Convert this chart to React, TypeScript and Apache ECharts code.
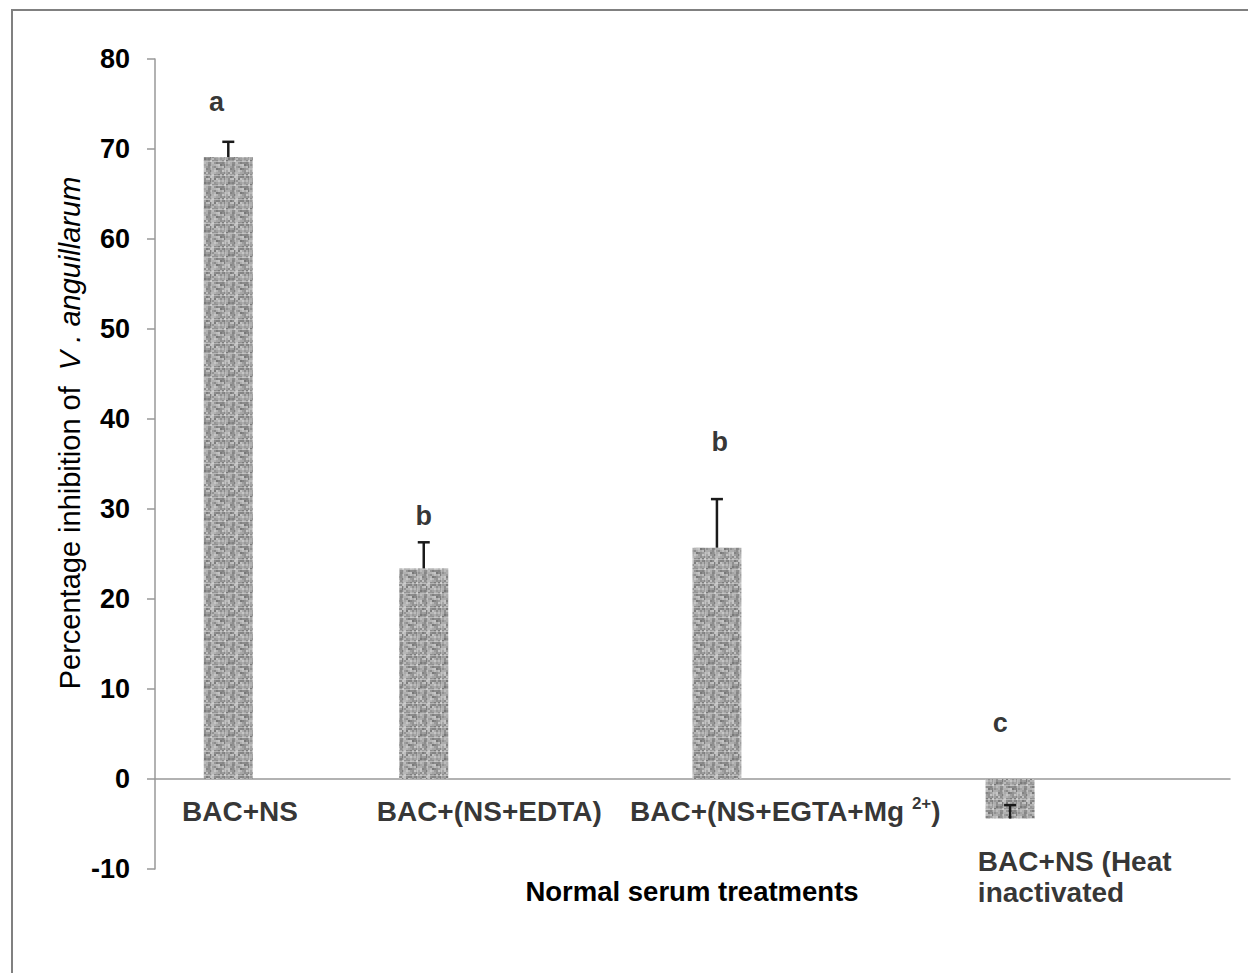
import React, { useEffect, useRef } from "react";
import * as echarts from "echarts";

// ---- data ----
const categories = [
  "BAC+NS",
  "BAC+(NS+EDTA)",
  "BAC+(NS+EGTA+Mg 2+)",
  "BAC+NS (Heat\ninactivated",
];
const barPositions = [0.75, 2.75, 5.75, 8.75];
const values = [69.1, 23.4, 25.7, -4.4];
const errors = [1.7, 2.9, 5.4, 1.5];
const letters = ["a", "b", "b", "c"];
const letterX = [0.63, 2.75, 5.78, 8.65];
const letterY = [75.2, 29.2, 37.4, 6.2];
const labelX = [0.87, 3.42, 6.45, 8.42];
const labelY = [-3.56, -3.56, -3.56, -10.9];
const yMin = -10;
const yMax = 80;
const yStep = 10;

const FONT = "'Liberation Sans', Arial, sans-serif";

function makeTexture(): HTMLCanvasElement {
  const c = document.createElement("canvas");
  c.width = 24;
  c.height = 24;
  const ctx = c.getContext("2d")!;
  for (let i = 0; i < 12; i++) {
    for (let j = 0; j < 12; j++) {
      const h = ((i * 73856093) ^ (j * 19349663) ^ (i * j * 83492791)) >>> 0;
      const v = 120 + (h % 80);
      ctx.fillStyle = `rgb(${v},${v},${v})`;
      ctx.fillRect(i * 2, j * 2, 2, 2);
    }
  }
  ctx.fillStyle = "rgba(215,215,215,0.5)";
  ctx.fillRect(0, 7, 24, 1);
  ctx.fillRect(0, 17, 24, 1);
  ctx.fillRect(9, 0, 1, 24);
  ctx.fillRect(19, 0, 1, 24);
  return c;
}

export default function App() {
  const ref = useRef<HTMLDivElement>(null);
  useEffect(() => {
    if (!ref.current) return;
    const chart = echarts.init(ref.current, null, { renderer: "svg" });
    const tex = makeTexture();

    const barData = barPositions.map((x, i) => [x, values[i]]);
    const errData = barPositions.map((x, i) => [x, values[i], errors[i]]);
    const letterData = letterX.map((x, i) => ({ value: [x, letterY[i]], name: letters[i] }));
    const labelData = labelX.map((x, i) =>
      i === 3
        ? { value: [x, labelY[i]], name: categories[i], label: { align: "left" } }
        : { value: [x, labelY[i]], name: categories[i] }
    );

    chart.setOption({
      animation: false,
      backgroundColor: "#ffffff",
      grid: { left: 155, right: 18, top: 59, bottom: 104, containLabel: false },
      xAxis: {
        type: "value",
        min: 0,
        max: 11,
        axisLine: { show: true, onZero: true, lineStyle: { color: "#999999", width: 1.5 } },
        axisTick: { show: false },
        axisLabel: { show: false },
        splitLine: { show: false },
      },
      yAxis: {
        type: "value",
        min: yMin,
        max: yMax,
        interval: yStep,
        axisLine: { show: true, lineStyle: { color: "#999999", width: 1.5 } },
        axisTick: { show: true, length: 8, lineStyle: { color: "#999999", width: 1.5 } },
        axisLabel: {
          margin: 25,
          fontSize: 27,
          fontWeight: "bold",
          fontFamily: FONT,
          color: "#000",
        },
        splitLine: { show: false },
      },
      graphic: [
        {
          type: "rect",
          silent: true,
          z: -10,
          shape: { x: 12, y: 10, width: 1300, height: 1100 },
          style: { fill: "none", stroke: "#808080", lineWidth: 2 },
        },
        {
          type: "text",
          x: 70,
          y: 433,
          rotation: Math.PI / 2,
          style: {
            text: "{n|Percentage inhibition of  }{i|V . anguillarum}",
            textAlign: "center",
            textVerticalAlign: "middle",
            fill: "#000",
            rich: {
              n: { fontSize: 29, fontFamily: FONT, fill: "#000" },
              i: { fontSize: 29, fontFamily: FONT, fontStyle: "italic", fill: "#000" },
            },
          },
        },
        {
          type: "text",
          x: 692,
          y: 891,
          style: {
            text: "Normal serum treatments",
            textAlign: "center",
            textVerticalAlign: "middle",
            fill: "#000",
            font: `bold 27.5px ${FONT}`,
          },
        },
      ],
      series: [
        {
          type: "bar",
          data: barData,
          barWidth: 49,
          itemStyle: { color: { image: tex, repeat: "repeat" } },
          z: 2,
        },
        {
          type: "custom",
          data: errData,
          encode: { x: 0, y: 1 },
          z: 5,
          renderItem: (params: any, api: any) => {
            const x = api.value(0);
            const v = api.value(1);
            const e = api.value(2);
            const p0 = api.coord([x, v]);
            const p1 = api.coord([x, v + e]);
            const cap = 6;
            return {
              type: "group",
              children: [
                {
                  type: "line",
                  shape: { x1: p0[0], y1: p0[1], x2: p1[0], y2: p1[1] },
                  style: { stroke: "#1a1a1a", lineWidth: 2.5 },
                },
                {
                  type: "line",
                  shape: { x1: p1[0] - cap, y1: p1[1], x2: p1[0] + cap, y2: p1[1] },
                  style: { stroke: "#1a1a1a", lineWidth: 2.5 },
                },
              ],
            };
          },
        },
        {
          type: "scatter",
          data: letterData,
          symbolSize: 1,
          clip: false,
          itemStyle: { color: "rgba(0,0,0,0)" },
          label: {
            show: true,
            position: "inside",
            formatter: (p: any) => p.name,
            fontSize: 27,
            fontWeight: "bold",
            fontFamily: FONT,
            color: "#000",
          },
          z: 6,
        },
        {
          type: "scatter",
          data: labelData,
          symbolSize: 1,
          clip: false,
          itemStyle: { color: "rgba(0,0,0,0)" },
          label: {
            show: true,
            position: "inside",
            formatter: (p: any) => {
              const idx = p.dataIndex;
              if (idx === 2) return "{n|BAC+(NS+EGTA+Mg }{s|2+}{n|)}";
              if (idx === 3) return "{l|BAC+NS (Heat}\n{l|inactivated}";
              return "{n|" + p.name + "}";
            },
            align: "center",
            verticalAlign: "middle",
            color: "#000",
            rich: {
              n: { fontSize: 28, fontWeight: "bold", fontFamily: FONT, color: "#000", lineHeight: 32 },
              s: {
                fontSize: 17,
                fontWeight: "bold",
                fontFamily: FONT,
                color: "#000",
                verticalAlign: "top",
                lineHeight: 32,
                padding: [0, 0, 10, 0],
              },
              l: { fontSize: 28, fontWeight: "bold", fontFamily: FONT, color: "#000", lineHeight: 31, align: "left" },
            },
          },
          z: 6,
        },
      ],
    });
    return () => chart.dispose();
  }, []);
  return (
    <div
      ref={ref}
      style={{ position: "absolute", left: 0, top: 0, width: 1248, height: 973, background: "#fff" }}
    />
  );
}
